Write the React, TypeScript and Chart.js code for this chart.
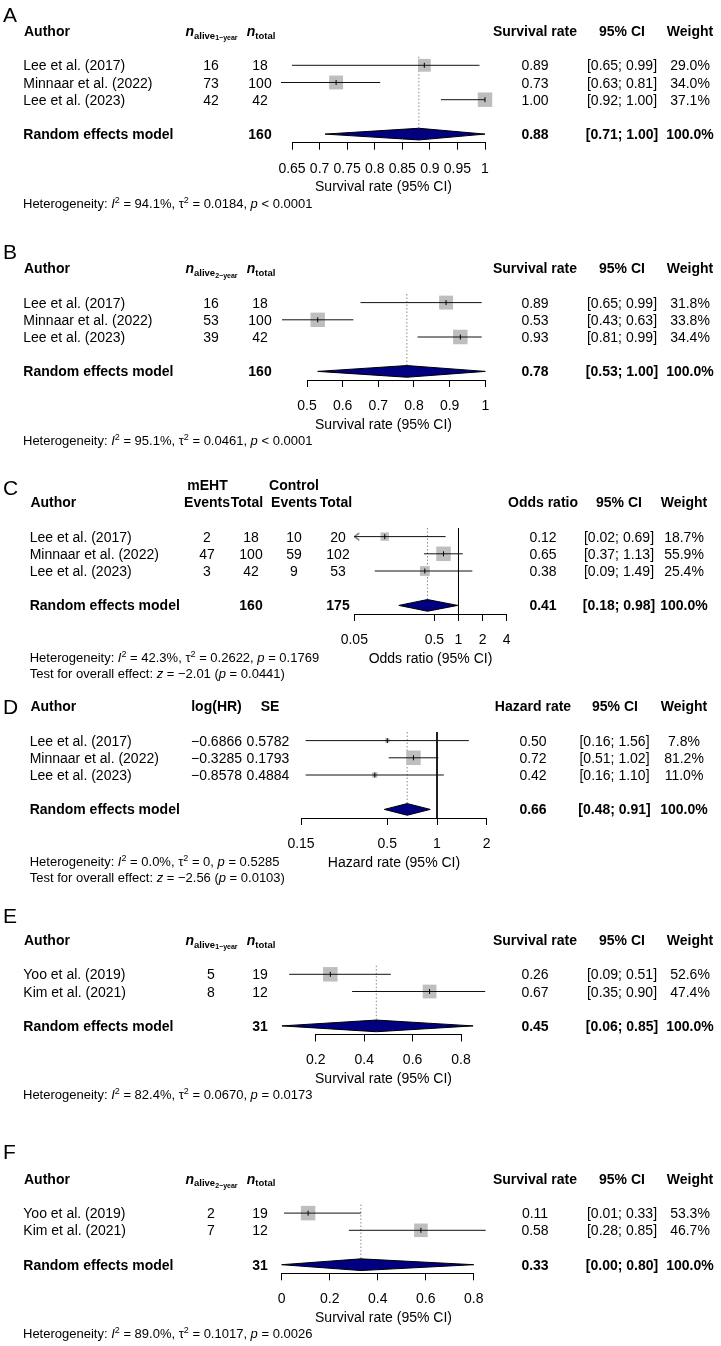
import React, { useEffect, useRef } from "react";
import { Chart, registerables } from "chart.js";

Chart.register(...registerables);

const FONT = '"Liberation Sans", Arial, Helvetica, sans-serif';
const PAGE_W = 721;
const PAGE_H = 1346;

// ================= DATA =================
// Panel A – 1-year survival
const authorsA = ["Lee et al. (2017)", "Minnaar et al. (2022)", "Lee et al. (2023)"];
const aliveA = [16, 73, 42];
const totalA = [18, 100, 42];
const rateA = [0.89, 0.73, 1.0];
const lowerA = [0.65, 0.63, 0.92];
const upperA = [0.99, 0.81, 1.0];
const weightA = [29.0, 34.0, 37.1];
const pooledA = [0.88, 0.71, 1.0];
const pooledTotalA = 160;
const ticksA = [0.65, 0.7, 0.75, 0.8, 0.85, 0.9, 0.95, 1];
const tickLabelsA = ["0.65", "0.7", "0.75", "0.8", "0.85", "0.9", "0.95", "1"];
const hetA = ["94.1%", "0.0184", "< 0.0001"];

// Panel B – 2-year survival
const authorsB = ["Lee et al. (2017)", "Minnaar et al. (2022)", "Lee et al. (2023)"];
const aliveB = [16, 53, 39];
const totalB = [18, 100, 42];
const rateB = [0.89, 0.53, 0.93];
const lowerB = [0.65, 0.43, 0.81];
const upperB = [0.99, 0.63, 0.99];
const weightB = [31.8, 33.8, 34.4];
const pooledB = [0.78, 0.53, 1.0];
const pooledTotalB = 160;
const ticksB = [0.5, 0.6, 0.7, 0.8, 0.9, 1];
const tickLabelsB = ["0.5", "0.6", "0.7", "0.8", "0.9", "1"];
const hetB = ["95.1%", "0.0461", "< 0.0001"];

// Panel C – odds ratio
const authorsC = ["Lee et al. (2017)", "Minnaar et al. (2022)", "Lee et al. (2023)"];
const eventsMehtC = [2, 47, 3];
const totalMehtC = [18, 100, 42];
const eventsCtrlC = [10, 59, 9];
const totalCtrlC = [20, 102, 53];
const orC = [0.12, 0.65, 0.38];
const lowerC = [0.02, 0.37, 0.09];
const upperC = [0.69, 1.13, 1.49];
const weightC = [18.7, 55.9, 25.4];
const pooledC = [0.41, 0.18, 0.98];
const pooledTotalsC = [160, 175];
const ticksC = [0.05, 0.5, 1, 2, 4];
const tickLabelsC = ["0.05", "0.5", "1", "2", "4"];
const hetC = ["42.3%", "0.2622", "= 0.1769"];
const testC = ["\u22122.01", "0.0441"];

// Panel D – hazard rate
const authorsD = ["Lee et al. (2017)", "Minnaar et al. (2022)", "Lee et al. (2023)"];
const logHrD = [-0.6866, -0.3285, -0.8578];
const seD = [0.5782, 0.1793, 0.4884];
const hrD = [0.5, 0.72, 0.42];
const lowerD = [0.16, 0.51, 0.16];
const upperD = [1.56, 1.02, 1.1];
const weightD = [7.8, 81.2, 11.0];
const pooledD = [0.66, 0.48, 0.91];
const ticksD = [0.15, 0.5, 1, 2];
const tickLabelsD = ["0.15", "0.5", "1", "2"];
const hetD = ["0.0%", "0", "= 0.5285"];
const testD = ["\u22122.56", "0.0103"];

// Panel E – 1-year survival
const authorsE = ["Yoo et al. (2019)", "Kim et al. (2021)"];
const aliveE = [5, 8];
const totalE = [19, 12];
const rateE = [0.26, 0.67];
const lowerE = [0.09, 0.35];
const upperE = [0.51, 0.9];
const weightE = [52.6, 47.4];
const pooledE = [0.45, 0.06, 0.85];
const pooledTotalE = 31;
const ticksE = [0.2, 0.4, 0.6, 0.8];
const tickLabelsE = ["0.2", "0.4", "0.6", "0.8"];
const hetE = ["82.4%", "0.0670", "= 0.0173"];

// Panel F – 2-year survival
const authorsF = ["Yoo et al. (2019)", "Kim et al. (2021)"];
const aliveF = [2, 7];
const totalF = [19, 12];
const rateF = [0.11, 0.58];
const lowerF = [0.01, 0.28];
const upperF = [0.33, 0.85];
const weightF = [53.3, 46.7];
const pooledF = [0.33, 0.0, 0.8];
const pooledTotalF = 31;
const ticksF = [0, 0.2, 0.4, 0.6, 0.8];
const tickLabelsF = ["0", "0.2", "0.4", "0.6", "0.8"];
const hetF = ["89.0%", "0.1017", "= 0.0026"];

// ================= STYLE =================
const ROW = 17.2; // px per row
const DIA = 0.34; // diamond half height (rows)
const SQ = 14.5; // max square side (px)
const SQUARE_COLOR = "#bebebe";
const DIAMOND_COLOR = "#000080";

const REG = `14px ${FONT}`;
const BOLD = `bold 14px ${FONT}`;
const BI = `italic bold 14px ${FONT}`;
const SUB = `bold 9.5px ${FONT}`;
const SUB2 = `bold 7px ${FONT}`;
const NOTE = `13px ${FONT}`;
const NOTE_I = `italic 13px ${FONT}`;
const SUP = `9px ${FONT}`;
const LETTER = `21px ${FONT}`;

type Seg = { t: string; f: string; dy: number };
type Cell = { row: number; x: number; segs: Seg[]; align: "left" | "center"; off: number };
type Spec = {
  letter: string;
  top: number;
  height: number;
  axisY: number;
  letterY: number;
  xType: "linear" | "logarithmic";
  xMin: number;
  xMax: number;
  leftPx: number;
  rightPx: number;
  ticks: number[];
  tickLabels: string[];
  est: number[];
  lo: number[];
  hi: number[];
  weights: number[];
  pooled: number[];
  nullLine: boolean;
  clipLo: number | null;
  cells: Cell[];
  title: string;
  titleX: number;
};

const seg = (t: string, f = REG, dy = 0): Seg => ({ t, f, dy });
const cell = (row: number, x: number, segs: Seg[], align: "left" | "center" = "center", off = 5): Cell => ({
  row,
  x,
  segs,
  align,
  off,
});
const f2 = (v: number) => v.toFixed(2);
const ciText = (lo: number, hi: number) => `[${f2(lo)}; ${f2(hi)}]`;
const wText = (w: number) => `${w.toFixed(1)}%`;
const signed = (v: number, d: number) => (v < 0 ? "\u2212" : "") + Math.abs(v).toFixed(d);

function hetSegs(h: string[]): Seg[] {
  return [
    seg("Heterogeneity: ", NOTE),
    seg("I", NOTE_I),
    seg("2", SUP, -5),
    seg(` = ${h[0]}, `, NOTE),
    seg("\u03c4", NOTE),
    seg("2", SUP, -5),
    seg(` = ${h[1]}, `, NOTE),
    seg("p", NOTE_I),
    seg(` ${h[2]}`, NOTE),
  ];
}
function testSegs(z: string[]): Seg[] {
  return [
    seg("Test for overall effect: ", NOTE),
    seg("z", NOTE_I),
    seg(` = ${z[0]} (`, NOTE),
    seg("p", NOTE_I),
    seg(` = ${z[1]})`, NOTE),
  ];
}

function survivalCells(
  authors: string[],
  alive: number[],
  total: number[],
  rate: number[],
  lo: number[],
  hi: number[],
  w: number[],
  pooled: number[],
  pooledTotal: number,
  sub: string,
  het: string[]
): Cell[] {
  const cells: Cell[] = [];
  const pr = authors.length + 2;
  const ax = 23.3;
  cells.push(cell(-1, ax + 0.7, [seg("Author", BOLD)], "left"));
  cells.push(cell(-1, 211.5, [seg("n", BI), seg("alive", SUB, 2.7), seg(sub, SUB2, 4.3)]));
  cells.push(cell(-1, 261, [seg("n", BI), seg("total", SUB, 2.7)]));
  cells.push(cell(-1, 535, [seg("Survival rate", BOLD)]));
  cells.push(cell(-1, 622, [seg("95% CI", BOLD)]));
  cells.push(cell(-1, 690, [seg("Weight", BOLD)]));
  authors.forEach((a, i) => {
    const r = i + 1;
    cells.push(cell(r, ax, [seg(a)], "left"));
    cells.push(cell(r, 211, [seg(String(alive[i]))]));
    cells.push(cell(r, 260, [seg(String(total[i]))]));
    cells.push(cell(r, 535, [seg(f2(rate[i]))]));
    cells.push(cell(r, 622, [seg(ciText(lo[i], hi[i]))]));
    cells.push(cell(r, 690, [seg(wText(w[i]))]));
  });
  cells.push(cell(pr, ax, [seg("Random effects model", BOLD)], "left"));
  cells.push(cell(pr, 260, [seg(String(pooledTotal), BOLD)]));
  cells.push(cell(pr, 535, [seg(f2(pooled[0]), BOLD)]));
  cells.push(cell(pr, 622, [seg(ciText(pooled[1], pooled[2]), BOLD)]));
  cells.push(cell(pr, 690, [seg("100.0%", BOLD)]));
  cells.push(cell(pr + 4, 23, hetSegs(het), "left", 4.65));
  return cells;
}

function cellsC(): Cell[] {
  const cells: Cell[] = [];
  const ax = 29.7;
  const pr = authorsC.length + 2;
  cells.push(cell(-2, 207.5, [seg("mEHT", BOLD)]));
  cells.push(cell(-2, 294, [seg("Control", BOLD)]));
  cells.push(cell(-1, ax + 0.7, [seg("Author", BOLD)], "left"));
  cells.push(cell(-1, 207, [seg("Events", BOLD)]));
  cells.push(cell(-1, 247, [seg("Total", BOLD)]));
  cells.push(cell(-1, 294, [seg("Events", BOLD)]));
  cells.push(cell(-1, 336, [seg("Total", BOLD)]));
  cells.push(cell(-1, 543, [seg("Odds ratio", BOLD)]));
  cells.push(cell(-1, 619, [seg("95% CI", BOLD)]));
  cells.push(cell(-1, 684, [seg("Weight", BOLD)]));
  authorsC.forEach((a, i) => {
    const r = i + 1;
    cells.push(cell(r, ax, [seg(a)], "left"));
    cells.push(cell(r, 207, [seg(String(eventsMehtC[i]))]));
    cells.push(cell(r, 251, [seg(String(totalMehtC[i]))]));
    cells.push(cell(r, 294, [seg(String(eventsCtrlC[i]))]));
    cells.push(cell(r, 338, [seg(String(totalCtrlC[i]))]));
    cells.push(cell(r, 543, [seg(f2(orC[i]))]));
    cells.push(cell(r, 619, [seg(ciText(lowerC[i], upperC[i]))]));
    cells.push(cell(r, 684, [seg(wText(weightC[i]))]));
  });
  cells.push(cell(pr, ax, [seg("Random effects model", BOLD)], "left"));
  cells.push(cell(pr, 251, [seg(String(pooledTotalsC[0]), BOLD)]));
  cells.push(cell(pr, 338, [seg(String(pooledTotalsC[1]), BOLD)]));
  cells.push(cell(pr, 543, [seg(f2(pooledC[0]), BOLD)]));
  cells.push(cell(pr, 619, [seg(ciText(pooledC[1], pooledC[2]), BOLD)]));
  cells.push(cell(pr, 684, [seg("100.0%", BOLD)]));
  cells.push(cell(pr + 3, ax, hetSegs(hetC), "left", 4.65));
  cells.push(cell(pr + 3.93, ax, testSegs(testC), "left", 4.65));
  return cells;
}

function cellsD(): Cell[] {
  const cells: Cell[] = [];
  const ax = 29.7;
  const pr = authorsD.length + 2;
  cells.push(cell(-1, ax + 0.7, [seg("Author", BOLD)], "left"));
  cells.push(cell(-1, 216.5, [seg("log(HR)", BOLD)]));
  cells.push(cell(-1, 270, [seg("SE", BOLD)]));
  cells.push(cell(-1, 533, [seg("Hazard rate", BOLD)]));
  cells.push(cell(-1, 615, [seg("95% CI", BOLD)]));
  cells.push(cell(-1, 684, [seg("Weight", BOLD)]));
  authorsD.forEach((a, i) => {
    const r = i + 1;
    cells.push(cell(r, ax, [seg(a)], "left"));
    cells.push(cell(r, 216.5, [seg(signed(logHrD[i], 4))]));
    cells.push(cell(r, 268, [seg(seD[i].toFixed(4))]));
    cells.push(cell(r, 533, [seg(f2(hrD[i]))]));
    cells.push(cell(r, 614.5, [seg(ciText(lowerD[i], upperD[i]))]));
    cells.push(cell(r, 684, [seg(wText(weightD[i]))]));
  });
  cells.push(cell(pr, ax, [seg("Random effects model", BOLD)], "left"));
  cells.push(cell(pr, 533, [seg(f2(pooledD[0]), BOLD)]));
  cells.push(cell(pr, 614.5, [seg(ciText(pooledD[1], pooledD[2]), BOLD)]));
  cells.push(cell(pr, 684, [seg("100.0%", BOLD)]));
  cells.push(cell(pr + 3, ax, hetSegs(hetD), "left", 4.65));
  cells.push(cell(pr + 3.95, ax, testSegs(testD), "left", 4.65));
  return cells;
}

const SURV_TITLE = "Survival rate (95% CI)";
const SUB_1Y = "1\u2212year";
const SUB_2Y = "2\u2212year";

const PANELS: Spec[] = [
  {
    letter: "A", top: 0, height: 225, axisY: 142.7, letterY: 14.5,
    xType: "linear", xMin: ticksA[0], xMax: ticksA[ticksA.length - 1], leftPx: 292, rightPx: 485,
    ticks: ticksA, tickLabels: tickLabelsA,
    est: rateA, lo: lowerA, hi: upperA, weights: weightA, pooled: pooledA, nullLine: false, clipLo: null,
    cells: survivalCells(authorsA, aliveA, totalA, rateA, lowerA, upperA, weightA, pooledA, pooledTotalA, SUB_1Y, hetA),
    title: SURV_TITLE, titleX: 383.5,
  },
  {
    letter: "B", top: 225, height: 235, axisY: 380, letterY: 251.3,
    xType: "linear", xMin: ticksB[0], xMax: ticksB[ticksB.length - 1], leftPx: 307, rightPx: 485.3,
    ticks: ticksB, tickLabels: tickLabelsB,
    est: rateB, lo: lowerB, hi: upperB, weights: weightB, pooled: pooledB, nullLine: false, clipLo: null,
    cells: survivalCells(authorsB, aliveB, totalB, rateB, lowerB, upperB, weightB, pooledB, pooledTotalB, SUB_2Y, hetB),
    title: SURV_TITLE, titleX: 383.5,
  },
  {
    letter: "C", top: 460, height: 230, axisY: 614, letterY: 487.5,
    xType: "logarithmic", xMin: ticksC[0], xMax: ticksC[ticksC.length - 1], leftPx: 354.3, rightPx: 506.7,
    ticks: ticksC, tickLabels: tickLabelsC,
    est: orC, lo: lowerC, hi: upperC, weights: weightC, pooled: pooledC, nullLine: true, clipLo: ticksC[0],
    cells: cellsC(),
    title: "Odds ratio (95% CI)", titleX: 430.5,
  },
  {
    letter: "D", top: 690, height: 205, axisY: 818, letterY: 706,
    xType: "logarithmic", xMin: ticksD[0], xMax: ticksD[ticksD.length - 1], leftPx: 301, rightPx: 486.7,
    ticks: ticksD, tickLabels: tickLabelsD,
    est: hrD, lo: lowerD, hi: upperD, weights: weightD, pooled: pooledD, nullLine: true, clipLo: null,
    cells: cellsD(),
    title: "Hazard rate (95% CI)", titleX: 394,
  },
  {
    letter: "E", top: 895, height: 225, axisY: 1034.5, letterY: 915.8,
    xType: "linear", xMin: ticksE[0], xMax: ticksE[ticksE.length - 1], leftPx: 315.8, rightPx: 461,
    ticks: ticksE, tickLabels: tickLabelsE,
    est: rateE, lo: lowerE, hi: upperE, weights: weightE, pooled: pooledE, nullLine: false, clipLo: null,
    cells: survivalCells(authorsE, aliveE, totalE, rateE, lowerE, upperE, weightE, pooledE, pooledTotalE, SUB_1Y, hetE),
    title: SURV_TITLE, titleX: 383.5,
  },
  {
    letter: "F", top: 1120, height: 226, axisY: 1273.3, letterY: 1151.7,
    xType: "linear", xMin: ticksF[0], xMax: ticksF[ticksF.length - 1], leftPx: 281.7, rightPx: 473.7,
    ticks: ticksF, tickLabels: tickLabelsF,
    est: rateF, lo: lowerF, hi: upperF, weights: weightF, pooled: pooledF, nullLine: false, clipLo: null,
    cells: survivalCells(authorsF, aliveF, totalF, rateF, lowerF, upperF, weightF, pooledF, pooledTotalF, SUB_2Y, hetF),
    title: SURV_TITLE, titleX: 383.5,
  },
];

function makeArrow(): HTMLCanvasElement {
  const c = document.createElement("canvas");
  c.width = 14;
  c.height = 10;
  const g = c.getContext("2d")!;
  g.strokeStyle = "#000";
  g.lineWidth = 1;
  g.beginPath();
  g.moveTo(12, 1.5);
  g.lineTo(7, 5);
  g.lineTo(12, 8.5);
  g.stroke();
  return c;
}

function buildDatasets(spec: Spec): any[] {
  const ds: any[] = [];
  const n = spec.est.length;
  const pr = n + 2;
  const maxW = Math.max(...spec.weights);
  const [pe, pl, ph] = spec.pooled;
  const base = { showLine: true, pointRadius: 0, pointHoverRadius: 0, clip: false, fill: false };

  // dotted line at pooled estimate
  ds.push({
    ...base,
    data: [{ x: pe, y: 0.5 }, { x: pe, y: pr - DIA }],
    borderColor: "#8a8a8a",
    borderWidth: 1,
    borderDash: [1.5, 2],
    order: 9,
  });
  // line of no effect
  if (spec.nullLine) {
    ds.push({
      ...base,
      data: [{ x: 1, y: 0.5 }, { x: 1, y: pr + 0.5 }],
      borderColor: "#000",
      borderWidth: 1,
      order: 8,
    });
  }
  // weight squares
  ds.push({
    data: spec.est.map((v, i) => ({ x: v, y: i + 1 })),
    showLine: false,
    pointStyle: "rect",
    pointRadius: spec.weights.map((w) => (SQ * Math.sqrt(w / maxW)) / Math.SQRT2),
    pointHoverRadius: 0,
    pointBackgroundColor: SQUARE_COLOR,
    backgroundColor: SQUARE_COLOR,
    pointBorderWidth: 0,
    borderWidth: 0,
    clip: false,
    order: 7,
  });
  // confidence intervals
  spec.est.forEach((_, i) => {
    const lo = spec.clipLo !== null ? Math.max(spec.lo[i], spec.clipLo) : spec.lo[i];
    ds.push({
      ...base,
      data: [{ x: lo, y: i + 1 }, { x: spec.hi[i], y: i + 1 }],
      borderColor: "#111",
      borderWidth: 1,
      order: 6,
    });
  });
  // estimate marks
  ds.push({
    data: spec.est.map((v, i) => ({ x: v, y: i + 1 })),
    showLine: false,
    pointStyle: "line",
    pointRotation: 90,
    pointRadius: 2.5,
    pointHoverRadius: 0,
    pointBorderColor: "#000",
    borderColor: "#000",
    pointBorderWidth: 1,
    borderWidth: 1,
    clip: false,
    order: 5,
  });
  // arrows for truncated intervals
  if (spec.clipLo !== null) {
    const arrow = makeArrow();
    const pts = spec.lo
      .map((v, i) => ({ v, i }))
      .filter((o) => o.v < (spec.clipLo as number))
      .map((o) => ({ x: spec.clipLo as number, y: o.i + 1 }));
    if (pts.length) {
      ds.push({
        data: pts,
        showLine: false,
        pointStyle: arrow,
        pointRadius: 5,
        pointHoverRadius: 5,
        clip: false,
        order: 4,
      });
    }
  }
  // pooled diamond
  ds.push({
    ...base,
    data: [
      { x: pl, y: pr },
      { x: pe, y: pr - DIA },
      { x: ph, y: pr },
      { x: pe, y: pr + DIA },
      { x: pl, y: pr },
    ],
    borderColor: "#000",
    borderWidth: 1,
    order: 3,
    diamond: true,
  });
  return ds;
}

function drawSegs(ctx: CanvasRenderingContext2D, segs: Seg[], x: number, baseY: number, align: "left" | "center") {
  ctx.textBaseline = "alphabetic";
  ctx.textAlign = "left";
  let total = 0;
  for (const s of segs) {
    ctx.font = s.f;
    total += ctx.measureText(s.t).width;
  }
  let cx = align === "left" ? x : x - total / 2;
  for (const s of segs) {
    ctx.font = s.f;
    ctx.fillText(s.t, cx, baseY + s.dy);
    cx += ctx.measureText(s.t).width;
  }
}

function makeTextPlugin(spec: Spec) {
  return {
    id: "forestText",
    beforeDatasetsDraw(chart: any) {
      const ctx = chart.ctx as CanvasRenderingContext2D;
      chart.data.datasets.forEach((d: any, i: number) => {
        if (!d.diamond) return;
        const pts = chart.getDatasetMeta(i).data;
        ctx.save();
        ctx.beginPath();
        pts.forEach((p: any, k: number) => (k ? ctx.lineTo(p.x, p.y) : ctx.moveTo(p.x, p.y)));
        ctx.closePath();
        ctx.fillStyle = DIAMOND_COLOR;
        ctx.fill();
        ctx.restore();
      });
    },
    afterDraw(chart: any) {
      const ctx = chart.ctx as CanvasRenderingContext2D;
      const ys = chart.scales.y;
      const area = chart.chartArea;
      ctx.save();
      ctx.fillStyle = "#000";
      drawSegs(ctx, [seg(spec.letter, LETTER)], 3, spec.letterY - spec.top + 7.5, "left");
      for (const c of spec.cells) {
        drawSegs(ctx, c.segs, c.x, ys.getPixelForValue(c.row) + c.off, c.align);
      }
      drawSegs(ctx, [seg(spec.title, REG)], spec.titleX, area.bottom + 43.5 + 5, "center");
      ctx.restore();
    },
  };
}

function ForestPanel({ spec }: { spec: Spec }) {
  const ref = useRef<HTMLCanvasElement | null>(null);
  useEffect(() => {
    const canvas = ref.current;
    if (!canvas) return;
    const axisInCanvas = spec.axisY - spec.top;
    const nRowsTotal = spec.est.length + 2;
    const areaTop = axisInCanvas - nRowsTotal * ROW;
    const chart = new Chart(canvas, {
      type: "scatter",
      data: { datasets: buildDatasets(spec) },
      options: {
        responsive: false,
        maintainAspectRatio: false,
        animation: false,
        devicePixelRatio: 1,
        events: [],
        layout: {
          padding: { left: spec.leftPx, right: PAGE_W - spec.rightPx, top: areaTop, bottom: 0 },
        },
        plugins: { legend: { display: false }, tooltip: { enabled: false } },
        scales: {
          x: {
            type: spec.xType,
            position: "bottom",
            min: spec.xMin,
            max: spec.xMax,
            afterBuildTicks: (s: any) => {
              s.ticks = spec.ticks.map((v) => ({ value: v }));
            },
            afterFit: (s: any) => {
              s.height = spec.height - axisInCanvas;
            },
            ticks: {
              autoSkip: false,
              maxRotation: 0,
              minRotation: 0,
              padding: 10.6,
              color: "#000",
              font: { family: FONT, size: 14 },
              callback: (_v: any, i: number) => spec.tickLabels[i],
            },
            grid: { drawOnChartArea: false, drawTicks: true, tickLength: 7, color: "#000", lineWidth: 1 },
            border: { display: true, color: "#000", width: 1 },
          },
          y: {
            type: "linear",
            display: false,
            min: 0.5,
            max: nRowsTotal + 0.5,
            reverse: true,
          },
        },
      } as any,
      plugins: [makeTextPlugin(spec)],
    });
    return () => chart.destroy();
  }, [spec]);
  return (
    <canvas
      ref={ref}
      width={PAGE_W}
      height={spec.height}
      style={{ position: "absolute", left: 0, top: spec.top, width: PAGE_W, height: spec.height, display: "block" }}
    />
  );
}

export default function App() {
  return (
    <div
      style={{
        position: "absolute",
        left: 0,
        top: 0,
        width: PAGE_W,
        height: PAGE_H,
        background: "#fff",
        overflow: "hidden",
      }}
    >
      {PANELS.map((p) => (
        <ForestPanel key={p.letter} spec={p} />
      ))}
    </div>
  );
}
